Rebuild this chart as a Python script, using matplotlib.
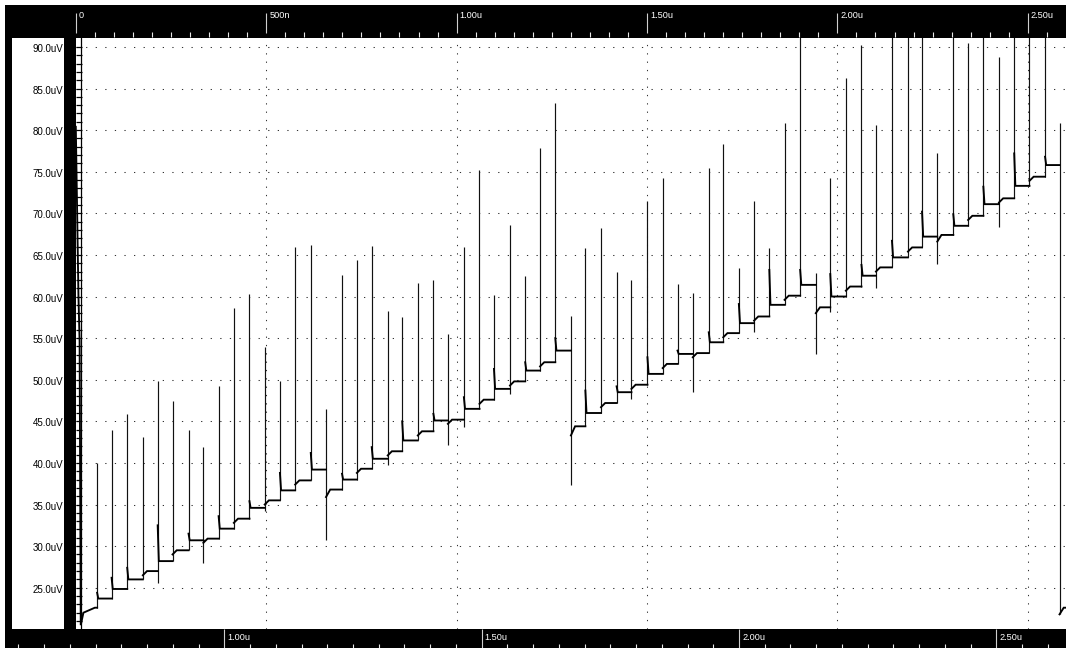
import numpy as np
import matplotlib
matplotlib.use("Agg")
import matplotlib.pyplot as plt
from matplotlib import font_manager
from matplotlib.patches import Rectangle

W, H, DPI = 1066, 648, 100

# ---------------- signal data (time in us, voltage in uV) ----------------
# power-up transient before the first switching event
lead_t = [0.000, 0.003, 0.007, 0.010, 0.013, 0.020, 0.035, 0.050]
lead_v = [80.4, 72.0, 60.0, 54.6, 20.5, 22.0, 22.3, 22.6]

# one entry per switching event
event_t = [0.056, 0.094, 0.135, 0.176, 0.215, 0.254, 0.296, 0.335,
           0.375, 0.415, 0.456, 0.496, 0.536, 0.576, 0.617, 0.657,
           0.699, 0.738, 0.777, 0.819, 0.857, 0.898, 0.939, 0.977,
           1.019, 1.060, 1.098, 1.140, 1.180, 1.219, 1.259, 1.300,
           1.338, 1.379, 1.420, 1.459, 1.501, 1.541, 1.580, 1.620,
           1.662, 1.700, 1.741, 1.781, 1.821, 1.861, 1.902, 1.943,
           1.981, 2.022, 2.063, 2.101, 2.143, 2.185, 2.222, 2.262,
           2.304, 2.343, 2.383, 2.424, 2.464, 2.504, 2.545, 2.583]

spike_top = [40.0, 43.9, 45.9, 43.1, 49.8, 47.4, 43.9, 41.9,
             49.3, 58.6, 60.3, 53.9, 49.8, 66.0, 66.2, 46.5,
             62.6, 64.4, 66.1, 58.3, 57.5, 61.6, 62.0, 55.5,
             65.9, 75.2, 60.2, 68.6, 62.5, 77.9, 83.2, 57.7,
             65.8, 68.2, 63.0, 62.0, 71.5, 74.3, 61.5, 60.4,
             75.5, 78.3, 63.4, 71.5, 65.8, 80.9, 95.0, 62.8,
             74.2, 86.3, 90.2, 80.6, 95.0, 95.0, 95.0, 77.2,
             95.0, 90.5, 95.0, 88.8, 95.0, 95.0, 95.0, 80.8]

nan = np.nan
spike_bottom = [nan, nan, nan, nan, 25.6, nan, nan, 28.0,
                nan, nan, nan, 34.2, nan, nan, nan, 30.7,
                nan, nan, nan, 39.7, nan, nan, nan, 42.1,
                44.3, nan, nan, 48.3, nan, nan, nan, 37.3,
                nan, nan, nan, 47.7, nan, nan, nan, 48.5,
                nan, nan, nan, 55.7, nan, nan, nan, 53.1,
                58.1, nan, nan, 61.0, nan, nan, nan, 63.9,
                nan, nan, nan, 68.3, nan, nan, nan, 21.8]

settle_start = [24.4, 26.2, 27.4, 26.5, 32.5, 29.0, 31.5, 30.4,
                33.6, 32.8, 35.4, 35.0, 38.8, 37.4, 41.2, 35.9,
                38.7, 38.8, 41.9, 40.9, 45.0, 43.3, 45.9, 44.7,
                47.9, 47.1, 51.3, 49.3, 52.1, 51.6, 55.0, 43.3,
                48.7, 46.7, 49.2, 48.9, 52.7, 51.4, 53.5, 52.7,
                55.7, 55.1, 59.1, 57.1, 63.2, 59.6, 63.2, 58.0,
                62.7, 60.7, 63.8, 63.0, 66.7, 65.4, 70.2, 66.6,
                69.9, 69.2, 73.2, 71.3, 77.2, 73.9, 76.8, 21.8]

settle_level = [23.7, 24.85, 26.0, 27.0, 28.2, 29.5, 30.7, 30.9,
                32.1, 33.3, 34.6, 35.5, 36.7, 37.9, 39.2, 36.8,
                38.0, 39.3, 40.5, 41.4, 42.7, 43.8, 45.1, 45.2,
                46.5, 47.6, 48.9, 49.8, 51.1, 52.1, 53.5, 44.4,
                46.0, 47.2, 48.5, 49.4, 50.7, 51.9, 53.1, 53.2,
                54.5, 55.6, 56.8, 57.6, 59.0, 60.1, 61.4, 58.7,
                60.0, 61.2, 62.5, 63.5, 64.7, 65.9, 67.2, 67.4,
                68.5, 69.7, 71.1, 71.8, 73.3, 74.4, 75.8, 22.6]

# ---------------- axes scales ----------------
T_MAX = 2.600                # right edge of the trace window
V_MIN, V_MAX = 20.04, 91.07
grid_v = [25, 30, 35, 40, 45, 50, 55, 60, 65, 70, 75, 80, 85, 90]
grid_t = [0.5, 1.0, 1.5, 2.0, 2.5]
top_major = [0.0, 0.5, 1.0, 1.5, 2.0, 2.5]
top_labels = ["0", "500n", "1.00u", "1.50u", "2.00u", "2.50u"]
bot_major = [1.0, 1.5, 2.0, 2.5]
bot_labels = ["1.00u", "1.50u", "2.00u", "2.50u"]

PX_PER_US = 380.8


def pick_font():
    names = {f.name for f in font_manager.fontManager.ttflist}
    for n in ["Liberation Sans Narrow", "Liberation Sans", "DejaVu Sans"]:
        if n in names:
            return n
    return "DejaVu Sans"


FONT = pick_font()
plt.rcParams["font.family"] = FONT

fig = plt.figure(figsize=(W / DPI, H / DPI), dpi=DPI)
fig.patch.set_facecolor("white")


def fx(px):
    return px / W


def fy(py_top):
    return 1 - py_top / H


# pixel geometry of the frame
PL, PR, PT, PB = 75.8, 1066, 38, 629

# ---------- main trace axes ----------
ax = fig.add_axes([fx(PL), fy(PB), fx(PR - PL), (PB - PT) / H])
ax.set_xlim(0, T_MAX)
ax.set_ylim(V_MIN, V_MAX)
for s in ax.spines.values():
    s.set_visible(False)
ax.set_xticks([])
ax.set_yticks(np.arange(21, 91, 1.0))
ax.tick_params(axis="y", direction="in", length=4.3, width=0.9,
               color="black", labelleft=False)
# rail closing the tick ladder
ax.axvline(5.6 / PX_PER_US, color="black", lw=0.9, zorder=2)

for v in grid_v:
    ax.axhline(v, color="#333333", lw=0.75, ls=(0, (1.2, 8.0)), zorder=1)
for t in grid_t:
    ax.axvline(t, color="#333333", lw=0.75, ls=(0, (1.2, 6.8)), zorder=1)

# settled levels: one polyline with breaks at each event
lt = list(lead_t)
lv = list(lead_v)
# spikes: thin vertical strokes at each event
sx, s_lo, s_hi = [], [], []
prev = lead_v[-1]
n = len(event_t)
for i in range(n):
    t0 = event_t[i]
    t1 = event_t[i + 1] if i + 1 < n else T_MAX + 0.01
    lo = spike_bottom[i]
    if np.isnan(lo):
        lo = min(prev, settle_start[i])
    sx.append(t0)
    s_lo.append(lo)
    s_hi.append(spike_top[i])
    dt = 0.003 if settle_start[i] > settle_level[i] else 0.011
    lt += [t0, nan, t0, t0 + dt, t1]
    lv += [prev, nan, settle_start[i], settle_level[i], settle_level[i]]
    prev = settle_level[i]

ax.vlines(sx, s_lo, s_hi, color="#111111", lw=0.85, zorder=3)
ax.plot(lt, lv, color="black", lw=1.35, solid_joinstyle="miter", zorder=4)

# ---------- top time bar ----------
t_of = lambda px: (px - 75.8) / PX_PER_US
axt = fig.add_axes([fx(5), fy(PT), fx(W - 5), (PT - 5) / H])
axt.set_facecolor("black")
axt.set_xlim(t_of(5), t_of(W))
axt.set_ylim(0, 33)
axt.set_xticks([])
axt.set_yticks([])
for s in axt.spines.values():
    s.set_visible(False)
minor_top = [m for m in np.arange(0.05, T_MAX, 0.05)
             if min(abs(m - M) for M in top_major) > 1e-6]
axt.vlines(minor_top, 1.5, 6.5, color="#e8e8e8", lw=0.8)
axt.vlines(top_major, 5, 25.5, color="#cfcfcf", lw=0.8)
for t, lab in zip(top_major, top_labels):
    axt.text(t + 3 / PX_PER_US, 26.5, lab, color="white", fontsize=6.6,
             ha="left", va="top")

# ---------- bottom time bar ----------
b_of = lambda px: 1.0 + (px - 224.3) / 514.7
axb = fig.add_axes([fx(5), 0, fx(W - 5), (H - PB) / H])
axb.set_facecolor("black")
axb.set_xlim(b_of(5), b_of(W))
axb.set_ylim(0, H - PB)
axb.set_xticks([])
axb.set_yticks([])
for s in axb.spines.values():
    s.set_visible(False)
minor_bot = [m for m in np.arange(0.6, 2.64, 0.05)
             if min(abs(m - M) for M in bot_major) > 1e-6]
axb.vlines(minor_bot, 0, 4, color="#e8e8e8", lw=0.8)
axb.vlines(bot_major, 0, H - PB, color="#cfcfcf", lw=0.8)
for b, lab in zip(bot_major, bot_labels):
    axb.text(b + 3 / 514.7, 15.5, lab, color="white", fontsize=6.6,
             ha="left", va="top")

# ---------- left voltage label panel ----------
axl = fig.add_axes([fx(5), fy(PB), fx(PL - 5), (PB - PT) / H])
axl.set_facecolor("black")
axl.set_xlim(5, PL)
axl.set_ylim(V_MIN, V_MAX)
axl.set_xticks([])
axl.set_yticks([])
for s in axl.spines.values():
    s.set_visible(False)
axl.add_patch(Rectangle((12, V_MIN), 52, V_MAX - V_MIN, facecolor="white",
                        edgecolor="none"))
for v in grid_v:
    axl.text(63, v - 0.25, f"{v:.1f}uV", color="black", fontsize=7,
             ha="right", va="center")

fig.savefig("out.png", dpi=DPI, facecolor="white")
